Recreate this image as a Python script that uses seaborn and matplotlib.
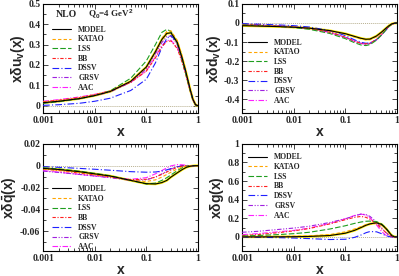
"""
Polarized parton distributions at Q0^2 = 4 GeV^2 (NLO), four panels.
Output: out.png
"""

import numpy as np
import pandas as pd
import matplotlib
matplotlib.use("Agg")
import matplotlib.pyplot as plt
from matplotlib.ticker import MultipleLocator, LogLocator, NullFormatter
import seaborn as sns

# =============================================================================
# DATA
# =============================================================================

x_grid = [0.001, 0.002, 0.005, 0.01, 0.02, 0.05, 0.1, 0.15, 0.2, 0.25,
          0.3, 0.4, 0.5, 0.6, 0.7, 0.8, 0.9, 1.0]

models = ["MODEL", "KATAO", "LSS", "BB", "DSSV", "GRSV", "AAC"]

# x delta u_v
uv_model = [0.015, 0.022, 0.035, 0.05, 0.07, 0.12, 0.19, 0.265, 0.325, 0.355, 0.358, 0.31, 0.23, 0.155, 0.085, 0.032, 0.005, 0.0]
uv_katao = [0.017, 0.024, 0.037, 0.052, 0.072, 0.12, 0.19, 0.265, 0.33, 0.365, 0.368, 0.32, 0.24, 0.16, 0.088, 0.033, 0.005, 0.0]
uv_lss = [0.012, 0.02, 0.034, 0.05, 0.073, 0.135, 0.22, 0.30, 0.36, 0.375, 0.365, 0.305, 0.22, 0.145, 0.078, 0.028, 0.004, 0.0]
uv_bb = [0.02, 0.027, 0.04, 0.055, 0.072, 0.115, 0.17, 0.235, 0.29, 0.315, 0.318, 0.28, 0.21, 0.14, 0.077, 0.028, 0.004, 0.0]
uv_dssv = [0.002, 0.005, 0.012, 0.022, 0.037, 0.075, 0.13, 0.21, 0.285, 0.33, 0.345, 0.31, 0.23, 0.155, 0.085, 0.03, 0.005, 0.0]
uv_grsv = [0.014, 0.021, 0.034, 0.049, 0.068, 0.115, 0.18, 0.255, 0.31, 0.34, 0.342, 0.3, 0.225, 0.15, 0.082, 0.03, 0.005, 0.0]
uv_aac = [0.022, 0.03, 0.043, 0.056, 0.073, 0.115, 0.17, 0.24, 0.295, 0.32, 0.322, 0.285, 0.215, 0.145, 0.08, 0.03, 0.005, 0.0]

# x delta d_v
dv_model = [-0.014, -0.016, -0.019, -0.022, -0.027, -0.04, -0.056, -0.07, -0.08, -0.085, -0.084, -0.068, -0.048, -0.029, -0.014, -0.004, -0.001, 0.0]
dv_katao = [-0.013, -0.015, -0.018, -0.021, -0.027, -0.041, -0.058, -0.073, -0.083, -0.088, -0.087, -0.072, -0.051, -0.031, -0.015, -0.005, -0.001, 0.0]
dv_lss = [-0.01, -0.013, -0.018, -0.024, -0.033, -0.055, -0.082, -0.103, -0.115, -0.118, -0.113, -0.09, -0.063, -0.038, -0.018, -0.006, -0.001, 0.0]
dv_bb = [-0.008, -0.011, -0.016, -0.021, -0.029, -0.049, -0.075, -0.095, -0.106, -0.109, -0.106, -0.086, -0.061, -0.037, -0.018, -0.006, -0.001, 0.0]
dv_dssv = [-0.004, -0.006, -0.01, -0.014, -0.021, -0.04, -0.066, -0.088, -0.101, -0.106, -0.104, -0.087, -0.063, -0.039, -0.019, -0.006, -0.001, 0.0]
dv_grsv = [-0.006, -0.009, -0.014, -0.019, -0.027, -0.047, -0.074, -0.095, -0.107, -0.111, -0.108, -0.089, -0.063, -0.038, -0.018, -0.006, -0.001, 0.0]
dv_aac = [-0.009, -0.012, -0.017, -0.022, -0.03, -0.05, -0.076, -0.096, -0.107, -0.11, -0.106, -0.086, -0.06, -0.036, -0.017, -0.005, -0.001, 0.0]

# x delta qbar
qb_model = [-0.0025, -0.0035, -0.0055, -0.0075, -0.0095, -0.0135, -0.0165, -0.0168, -0.0155, -0.0135, -0.0105, -0.0065, -0.0035, -0.0015, -0.0006, -0.0002, 0.0, 0.0]
qb_katao = [-0.003, -0.004, -0.006, -0.008, -0.01, -0.0135, -0.0145, -0.013, -0.0105, -0.008, -0.006, -0.003, -0.0012, -0.0004, 0.0, 0.0, 0.0, 0.0]
qb_lss = [-0.002, -0.003, -0.005, -0.007, -0.0092, -0.0135, -0.0168, -0.016, -0.0135, -0.011, -0.0085, -0.0045, -0.0018, -0.0005, 0.0, 0.0, 0.0, 0.0]
qb_bb = [-0.003, -0.0045, -0.0068, -0.0085, -0.0102, -0.0128, -0.0125, -0.0105, -0.008, -0.0058, -0.004, -0.0015, -0.0003, 0.0, 0.0, 0.0, 0.0, 0.0]
qb_dssv = [-0.001, -0.0015, -0.0025, -0.0033, -0.0042, -0.0055, -0.006, -0.0058, -0.005, -0.0038, -0.0027, -0.001, -0.0002, 0.0, 0.0, 0.0, 0.0, 0.0]
qb_grsv = [-0.005, -0.0062, -0.008, -0.0095, -0.011, -0.0135, -0.013, -0.0105, -0.0075, -0.005, -0.003, -0.0008, 0.0, 0.0, 0.0, 0.0, 0.0, 0.0]
qb_aac = [-0.0045, -0.006, -0.008, -0.0095, -0.0108, -0.0125, -0.011, -0.0075, -0.0045, -0.002, -0.0002, 0.001, 0.0008, 0.0003, 0.0, 0.0, 0.0, 0.0]

# x delta g
g_model = [0.0, 0.0, 0.001, 0.002, 0.005, 0.015, 0.04, 0.07, 0.1, 0.125, 0.14, 0.152, 0.135, 0.095, 0.05, 0.012, 0.0, 0.0]
g_katao = [0.002, 0.003, 0.005, 0.007, 0.011, 0.025, 0.055, 0.085, 0.11, 0.13, 0.14, 0.145, 0.125, 0.09, 0.05, 0.015, 0.002, 0.0]
g_lss = [0.01, 0.015, 0.025, 0.035, 0.05, 0.085, 0.12, 0.145, 0.16, 0.168, 0.17, 0.165, 0.14, 0.1, 0.055, 0.018, 0.003, 0.0]
g_bb = [0.015, 0.025, 0.045, 0.065, 0.09, 0.14, 0.185, 0.21, 0.22, 0.21, 0.19, 0.14, 0.09, 0.05, 0.02, 0.005, 0.0, 0.0]
g_dssv = [-0.002, -0.004, -0.008, -0.012, -0.018, -0.028, -0.025, -0.005, 0.02, 0.045, 0.058, 0.055, 0.035, 0.015, 0.004, 0.0, 0.0, 0.0]
g_grsv = [0.05, 0.06, 0.08, 0.095, 0.115, 0.155, 0.195, 0.225, 0.245, 0.24, 0.22, 0.16, 0.1, 0.05, 0.02, 0.005, 0.0, 0.0]
g_aac = [0.025, 0.035, 0.055, 0.07, 0.095, 0.145, 0.195, 0.23, 0.245, 0.235, 0.205, 0.13, 0.06, 0.02, 0.005, 0.0, 0.0, 0.0]

x_ticks = [0.001, 0.01, 0.1, 1]
x_tick_labels = ["0.001", "0.01", "0.1", "1"]

# =============================================================================
# STYLE
# =============================================================================

sns.set_style("ticks")
plt.rcParams["font.family"] = ["Liberation Serif", "DejaVu Serif"]
plt.rcParams["font.weight"] = "bold"
plt.rcParams["mathtext.fontset"] = "custom"
plt.rcParams["mathtext.rm"] = "Liberation Sans:bold"
plt.rcParams["mathtext.it"] = "Liberation Sans:bold"
plt.rcParams["mathtext.bf"] = "Liberation Sans:bold"

colors = {
    "MODEL": "black",
    "KATAO": "#ffa500",
    "LSS": "#1f9e1f",
    "BB": "#ff2020",
    "DSSV": "#2020ff",
    "GRSV": "#a020e0",
    "AAC": "#ff20ff",
}

styles = {
    "MODEL": "-",
    "KATAO": (0, (3, 2)),
    "LSS": (0, (5, 2)),
    "BB": (0, (3, 1.5, 1, 1.5)),
    "DSSV": (0, (6, 2, 1, 2)),
    "GRSV": (0, (4, 1.5, 1, 1.5, 1, 1.5)),
    "AAC": (0, (5, 1.5, 1, 1.5)),
}

# =============================================================================
# PANELS
# =============================================================================

panels = [
    {
        "series": [uv_model, uv_katao, uv_lss, uv_bb, uv_dssv, uv_grsv, uv_aac],
        "ylabel": r"x$\delta$u$_\mathrm{v}$(x)",
        "ylim": (-0.035, 0.5), "major": 0.1, "minor": 0.05,
        "pos": [0.108, 0.591, 0.388, 0.395],
        "legend": (0.06, 0.80),
    },
    {
        "series": [dv_model, dv_katao, dv_lss, dv_bb, dv_dssv, dv_grsv, dv_aac],
        "ylabel": r"x$\delta$d$_\mathrm{v}$(x)",
        "ylim": (-0.47, 0.1), "major": 0.1, "minor": 0.05,
        "pos": [0.607, 0.591, 0.388, 0.395],
        "legend": (0.04, 0.68),
    },
    {
        "series": [qb_model, qb_katao, qb_lss, qb_bb, qb_dssv, qb_grsv, qb_aac],
        "ylabel": r"x$\delta\bar{\mathrm{q}}$(x)",
        "ylim": (-0.078, 0.02), "major": 0.02, "minor": 0.01,
        "pos": [0.108, 0.091, 0.388, 0.388],
        "legend": (0.06, 0.615),
    },
    {
        "series": [g_model, g_katao, g_lss, g_bb, g_dssv, g_grsv, g_aac],
        "ylabel": r"x$\delta$g(x)",
        "ylim": (-0.15, 1.0), "major": 0.2, "minor": 0.1,
        "pos": [0.607, 0.091, 0.388, 0.388],
        "legend": (0.04, 0.91),
    },
]

fig = plt.figure(figsize=(3.99, 2.76), dpi=100)

for i, panel in enumerate(panels):
    ax = fig.add_axes(panel["pos"])

    ax.axhline(0, color="#b8b090", lw=0.7, ls=(0, (1, 1)), zorder=1)

    # yellow band under the model curve
    sns.lineplot(x=x_grid, y=panel["series"][0], ax=ax, color="#ffee00",
                 lw=1.8, label="_nolegend_", zorder=2)

    for name, vals in zip(models[::-1], panel["series"][::-1]):
        sns.lineplot(x=x_grid, y=vals, ax=ax, color=colors[name],
                     linestyle=styles[name], lw=0.8, label=name,
                     zorder=3 if name != "MODEL" else 4)

    ax.set_xscale("log")
    ax.set_xlim(0.001, 1)
    ax.set_ylim(*panel["ylim"])

    ax.set_xticks(x_ticks)
    ax.set_xticklabels(x_tick_labels)
    ax.xaxis.set_minor_locator(LogLocator(base=10, subs=np.arange(2, 10)))
    ax.xaxis.set_minor_formatter(NullFormatter())

    ax.yaxis.set_major_locator(MultipleLocator(panel["major"]))
    ax.yaxis.set_minor_locator(MultipleLocator(panel["minor"]))
    ax.yaxis.set_major_formatter(
        matplotlib.ticker.FuncFormatter(
            lambda v, p: "0" if abs(v) < 1e-9 else f"{v:g}"
        )
    )

    ax.tick_params(which="both", direction="in", top=True, right=True,
                   labelsize=7, pad=2, width=0.6)
    ax.tick_params(which="major", length=3.5)
    ax.tick_params(which="minor", length=2)
    for lab in ax.get_xticklabels() + ax.get_yticklabels():
        lab.set_fontweight("bold")

    for spine in ax.spines.values():
        spine.set_linewidth(0.8)
        spine.set_color("black")

    ax.set_xlabel("x", family="Liberation Sans", fontsize=10,
                  fontweight="bold", labelpad=0)
    ax.set_ylabel(panel["ylabel"], family="Liberation Sans", fontsize=10,
                  fontweight="bold", labelpad=1)

    handles, labels = ax.get_legend_handles_labels()
    order = [labels.index(m) for m in models]
    ax.legend(
        [handles[k] for k in order],
        [labels[k] for k in order],
        loc="upper left",
        bbox_to_anchor=panel["legend"],
        frameon=False,
        handlelength=2.4,
        handletextpad=1.0,
        labelspacing=0.22,
        borderpad=0,
        borderaxespad=0,
        prop={"family": "Liberation Serif", "weight": "bold", "size": 5.5},
    )

    if i == 0:
        ax.text(0.08, 0.90, "NLO", transform=ax.transAxes, fontsize=7,
                fontweight="bold", va="center", ha="left")
        ax.text(0.29, 0.90, r"Q$_\mathrm{0}$=4 GeV$^\mathrm{2}$",
                transform=ax.transAxes, fontsize=6.5, va="center", ha="left")

fig.savefig("out.png", dpi=100)
